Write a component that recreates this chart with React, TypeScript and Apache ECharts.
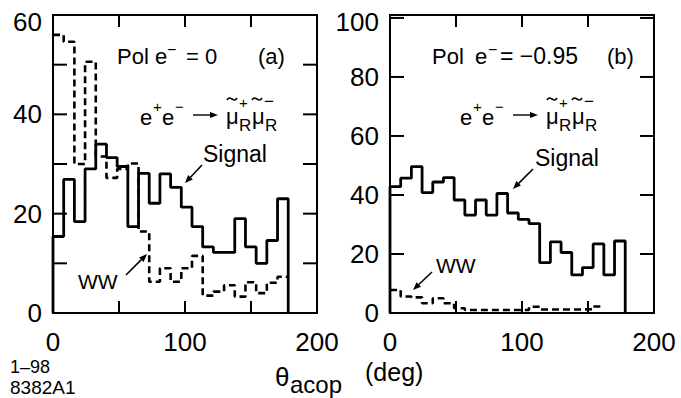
import React, { useEffect, useRef } from 'react';
import * as echarts from 'echarts';

// ---- data (counts per 8.1 degree acoplanarity bin) ----
const BIN_WIDTH = 8.1;
const signalA = [15.4, 26.9, 18.4, 29, 34, 31.3, 29.5, 17.4, 28.1, 22.1, 28, 25.3, 21.3, 17.4, 13.3, 12.2, 12.2, 19, 13.3, 10, 14.6, 23];
const wwA = [56, 54.6, 30, 50.6, 31.5, 27.2, 29, 30.1, 16.4, 6.3, 9, 6.3, 9, 11.5, 3.5, 4.3, 5.6, 3.3, 6.2, 4, 6.1, 7.3];
const signalB = [42.8, 45.7, 49.6, 40.8, 44.4, 45.9, 38.3, 33.2, 38.3, 33.2, 40.5, 33.9, 31.7, 30.3, 17.1, 24.1, 20.5, 12.9, 15.4, 23.4, 12.9, 24.4];
const wwB = [7.8, 5.6, 5.3, 3.3, 5, 3.3, 1.6, 1, 1, 1, 1, 1, 1, 2.1, 1.2, 1.2, 1.2, 1.2, 1.3, 2.2];
const xTickValues = [50, 100, 150];
const xTickLabels = ['0', '100', '200'];
const yTickValuesA = [10, 20, 30, 40, 50];
const yTickValuesB = [20, 40, 60, 80, 100];
const yTickLabelsA = ['0', '20', '40', '60'];
const yTickLabelsB = ['0', '20', '40', '60', '80', '100'];

const FONT = '"Liberation Sans", Arial, Helvetica, sans-serif';
const GRID_W = 264;
const GRID_H = 298;
const X_MAX = 200;

function stepPoints(vals: number[], closed: boolean): number[][] {
  const pts: number[][] = [];
  if (closed) pts.push([0, 0]);
  vals.forEach((v, i) => pts.push([i * BIN_WIDTH, v]));
  const end = vals.length * BIN_WIDTH;
  pts.push([end, vals[vals.length - 1]]);
  if (closed) pts.push([end, 0]);
  return pts;
}

// inward frame ticks drawn as tiny line series in data space
function tickSeries(axisIndex: number, yMax: number, yTicks: number[]): any[] {
  const dxTick = (14 / GRID_W) * X_MAX; // 14 px
  const dyTick = (12 / GRID_H) * yMax; // 12 px
  const segs: number[][][] = [];
  yTicks.forEach((v) => {
    segs.push([[0, v], [dxTick, v]]);
    segs.push([[X_MAX - dxTick, v], [X_MAX, v]]);
  });
  xTickValues.forEach((v) => {
    segs.push([[v, 0], [v, dyTick]]);
    segs.push([[v, yMax - dyTick], [v, yMax]]);
  });
  return segs.map((d) => ({
    type: 'line',
    xAxisIndex: axisIndex,
    yAxisIndex: axisIndex,
    data: d,
    symbol: 'none',
    silent: true,
    clip: false,
    lineStyle: { color: '#000', width: 2, type: 'solid' },
  }));
}

function txt(text: string, x: number, y: number, size: number): any {
  return {
    type: 'text',
    x,
    y,
    z: 100,
    silent: true,
    style: {
      text,
      fill: '#000',
      fontSize: size,
      fontFamily: FONT,
      align: 'left',
      verticalAlign: 'middle',
      textAlign: 'left',
      textVerticalAlign: 'middle',
    },
  };
}

function seg(x1: number, y1: number, x2: number, y2: number, lw: number): any {
  return { type: 'line', z: 100, silent: true, shape: { x1, y1, x2, y2 }, style: { stroke: '#000', lineWidth: lw } };
}

function arrow(x1: number, y1: number, x2: number, y2: number, lw = 1.6, hl = 8, hw = 3.2): any[] {
  const dx = x2 - x1;
  const dy = y2 - y1;
  const len = Math.sqrt(dx * dx + dy * dy);
  const ux = dx / len;
  const uy = dy / len;
  const bx = x2 - ux * hl;
  const by = y2 - uy * hl;
  return [
    seg(x1, y1, bx, by, lw),
    {
      type: 'polygon',
      z: 100,
      silent: true,
      shape: { points: [[x2, y2], [bx - uy * hw, by + ux * hw], [bx + uy * hw, by - ux * hw]] },
      style: { fill: '#000' },
    },
  ];
}

function tilde(x: number, y: number, w: number): any {
  return {
    type: 'bezierCurve',
    z: 100,
    silent: true,
    shape: { x1: x, y1: y + 1, cpx1: x + w * 0.35, cpy1: y - 5, cpx2: x + w * 0.65, cpy2: y + 5, x2: x + w, y2: y - 1 },
    style: { stroke: '#000', lineWidth: 1.5, fill: 'none' },
  };
}

function reaction(ox: number): any[] {
  return [
    txt('e', 140 + ox, 117, 22),
    txt('+', 153 + ox, 106, 15),
    txt('e', 162 + ox, 117, 22),
    txt('\u2212', 175 + ox, 106, 15),
    ...arrow(193 + ox, 115, 218 + ox, 115, 1.4, 8, 3),
    txt('\u03bc', 226 + ox, 116, 22),
    tilde(227 + ox, 99, 10),
    txt('+', 239 + ox, 102, 15),
    txt('R', 239 + ox, 125, 17),
    txt('\u03bc', 252 + ox, 116, 22),
    tilde(252 + ox, 99, 10),
    txt('\u2212', 264 + ox, 101, 17),
    txt('R', 265 + ox, 125, 17),
  ];
}

function xAxes(grid: number): any[] {
  const base = {
    gridIndex: grid,
    type: 'value',
    min: 0,
    max: X_MAX,
    interval: 50,
    axisLine: { show: true, onZero: false, lineStyle: { color: '#000', width: 2 } },
    axisTick: { show: false },
    splitLine: { show: false },
    splitArea: { show: false },
  };
  return [
    {
      ...base,
      position: 'bottom',
      axisLabel: {
        show: true,
        color: '#000',
        fontSize: 26,
        fontFamily: FONT,
        margin: 16,
        formatter: (v: number) => (xTickLabels.includes(String(v)) ? String(v) : ''),
      },
    },
    { ...base, position: 'top', axisLabel: { show: false } },
  ];
}

function yAxes(grid: number, max: number, interval: number, labels: string[], topLabel: string, pad: number): any[] {
  const base = {
    gridIndex: grid,
    type: 'value',
    min: 0,
    max,
    interval,
    axisLine: { show: true, onZero: false, lineStyle: { color: '#000', width: 2 } },
    axisTick: { show: false },
    splitLine: { show: false },
    splitArea: { show: false },
  };
  return [
    {
      ...base,
      position: 'left',
      axisLabel: {
        show: true,
        color: '#000',
        fontSize: 26,
        fontFamily: FONT,
        margin: 11,
        formatter: (v: number) => {
          const s = String(v);
          if (!labels.includes(s)) return '';
          return s === topLabel ? '{top|' + s + '}' : s;
        },
        rich: { top: { fontSize: 26, fontFamily: FONT, color: '#000', padding: [pad, 0, 0, 0] } },
      },
    },
    { ...base, position: 'right', axisLabel: { show: false } },
  ];
}

export default function App() {
  const ref = useRef<HTMLDivElement>(null);
  useEffect(() => {
    if (!ref.current) return;
    const chart = echarts.init(ref.current, undefined, { renderer: 'svg' });
    const solid = { color: '#000', width: 2.8, type: 'solid' };
    const dashed = { color: '#000', width: 2.6, type: [7, 4] };
    chart.setOption({
      animation: false,
      backgroundColor: '#fff',
      grid: [
        { left: 53, top: 15, width: GRID_W, height: GRID_H },
        { left: 390, top: 15, width: GRID_W, height: GRID_H },
      ],
      xAxis: [...xAxes(0), ...xAxes(1)],
      yAxis: [...yAxes(0, 60, 10, yTickLabelsA, '60', 14), ...yAxes(1, 101, 20, yTickLabelsB, '100', 8)],
      series: [
        ...tickSeries(0, 60, yTickValuesA),
        ...tickSeries(2, 101, yTickValuesB),
        { type: 'line', xAxisIndex: 0, yAxisIndex: 0, data: stepPoints(wwA, false), step: 'end', symbol: 'none', lineStyle: dashed, silent: true },
        { type: 'line', xAxisIndex: 0, yAxisIndex: 0, data: stepPoints(signalA, true), step: 'end', symbol: 'none', lineStyle: solid, silent: true },
        { type: 'line', xAxisIndex: 2, yAxisIndex: 2, data: stepPoints(wwB, false), step: 'end', symbol: 'none', lineStyle: dashed, silent: true },
        { type: 'line', xAxisIndex: 2, yAxisIndex: 2, data: stepPoints(signalB, true), step: 'end', symbol: 'none', lineStyle: solid, silent: true },
      ],
      graphic: [
        // panel (a)
        txt('Pol e', 117, 56, 22),
        txt('\u2212', 167, 49, 16),
        txt('= 0', 186, 56, 22),
        txt('(a)', 258, 56, 22),
        ...reaction(0),
        txt('Signal', 203, 154, 23),
        ...arrow(202, 165, 185, 183),
        txt('WW', 78, 281, 21),
        ...arrow(126, 275, 147, 254),
        // panel (b)
        txt('Pol', 432, 56, 22),
        txt('e', 475, 56, 22),
        txt('\u2212', 488, 49, 16),
        txt('= \u22120.95', 500, 56, 23),
        txt('(b)', 607, 56, 22),
        ...reaction(320),
        txt('Signal', 535, 158, 23),
        ...arrow(533, 169, 513, 189),
        txt('WW', 436, 265, 21),
        ...arrow(432, 272, 413, 290),
        // footer
        txt('1\u201398', 10, 367, 18),
        txt('8382A1', 10, 387, 19),
        txt('\u03b8', 275, 377, 26),
        txt('acop', 290, 384, 24),
        txt('(deg)', 365, 372, 25),
      ],
    });
    return () => chart.dispose();
  }, []);
  return <div ref={ref} style={{ position: 'fixed', left: 0, top: 0, width: 681, height: 398 }} />;
}
